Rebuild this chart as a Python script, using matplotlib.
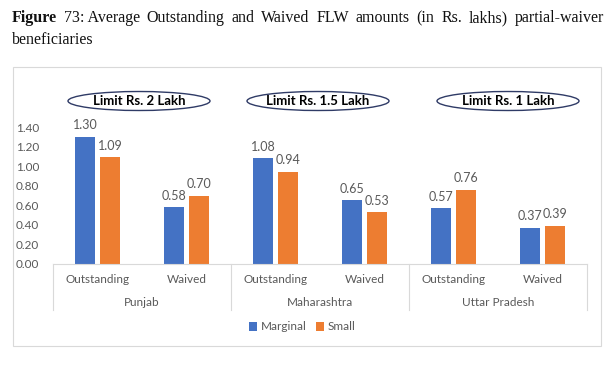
import numpy as np
import matplotlib
matplotlib.use("Agg")
import matplotlib.pyplot as plt
from matplotlib.patches import Ellipse, Rectangle
from matplotlib.lines import Line2D
import matplotlib.transforms as mtransforms

# data (Rs. lakhs)
states = ['Punjab', 'Maharashtra', 'Uttar Pradesh']
kinds = ['Outstanding', 'Waived']
marginal = [1.30, 0.58, 1.08, 0.65, 0.57, 0.37]
small = [1.09, 0.70, 0.94, 0.53, 0.76, 0.39]
limits = ['Limit Rs. 2 Lakh', 'Limit Rs. 1.5 Lakh', 'Limit Rs. 1 Lakh']

blue = '#4472C4'
orange = '#ED7D31'
grey = '#595959'

plt.rcParams['font.family'] = ['Lato', 'DejaVu Sans']

W, H = 616, 367
fig = plt.figure(figsize=(W / 100, H / 100), dpi=100)

def fx(px):
    return px / W

def fy(py):
    return 1 - py / H

# outer chart frame
fig.add_artist(Rectangle((fx(13), fy(346)), fx(601) - fx(13), fy(67) - fy(346),
                         transform=fig.transFigure, fill=False, edgecolor='#D9D9D9', lw=0.8))

ax = fig.add_axes([fx(53), fy(264), fx(587) - fx(53), fy(127) - fy(264)])
x = np.arange(len(marginal))
bw = 0.215
off = 0.14
b1 = ax.bar(x - off, marginal, bw, color=blue, label='Marginal')
b2 = ax.bar(x + off, small, bw, color=orange, label='Small')
for bars, vals in ((b1, marginal), (b2, small)):
    for r, v in zip(bars, vals):
        ax.annotate('%.2f' % v, (r.get_x() + r.get_width() / 2, v), xytext=(0, 4),
                    textcoords='offset points', ha='center', va='bottom', fontsize=9, color=grey)

ax.set_xlim(-0.5, 5.5)
ax.set_ylim(0, 1.4)
ax.set_yticks(np.arange(0, 1.41, 0.2))
ax.set_yticklabels(['%.2f' % t for t in np.arange(0, 1.41, 0.2)])
ax.set_xticks(x)
ax.set_xticklabels(kinds * 3)
ax.tick_params(axis='both', length=0, labelsize=8.5, labelcolor=grey)
ax.tick_params(axis='y', pad=10)
ax.tick_params(axis='x', pad=7)
for s in ['top', 'right', 'left']:
    ax.spines[s].set_visible(False)
ax.spines['bottom'].set_color('#D9D9D9')

trans = mtransforms.blended_transform_factory(ax.transData, ax.transAxes)
ybot = -(310 - 264) / 137
for xs in [-0.5, 1.5, 3.5, 5.5]:
    ax.add_line(Line2D([xs, xs], [0, ybot], transform=trans, color='#D9D9D9', lw=0.8, clip_on=False))
for i, st in enumerate(states):
    ax.text(2 * i + 0.5, -(302 - 264) / 137, st, transform=trans, ha='center', va='center',
            fontsize=8.5, color=grey)

# limit ellipses
for cx, lab in zip([139, 318, 508], limits):
    fig.add_artist(Ellipse((fx(cx), fy(101)), fx(142), 19 / H, transform=fig.transFigure,
                           facecolor='white', edgecolor='#2F3B66', lw=1.0))
    fig.text(fx(cx), fy(101), lab, ha='center', va='center', fontsize=9.5,
             fontweight='bold', color='black')

fig.legend(handles=[b1, b2], loc='center', bbox_to_anchor=(fx(302), fy(327)), ncol=2,
           frameon=False, fontsize=8.5, labelcolor=grey, handlelength=0.7, handleheight=0.7,
           handletextpad=0.3, columnspacing=0.8)

# caption above the chart, justified on first line
fig.canvas.draw()
r = fig.canvas.get_renderer()
words = ['Figure', '73', ': Average', 'Outstanding', 'and', 'Waived', 'FLW', 'amounts',
         '(in', 'Rs.', 'lakhs)', 'partial-waiver']
bold = [True, False, False] + [False] * 9
tf = {'family': 'Liberation Serif', 'fontsize': 11.5, 'color': '#111111'}
texts = []
for w_, b in zip(words, bold):
    t = fig.text(0, fy(18), w_, va='center', fontweight='bold' if b else 'normal', **tf)
    texts.append(t)
widths = [t.get_window_extent(r).width for t in texts]
# "73" and ": Average" glue without space
gaps = len(words) - 2
space = (604 - 12 - sum(widths)) / gaps
xp = 12
for i, (t, wd) in enumerate(zip(texts, widths)):
    t.set_x(fx(xp))
    xp += wd
    if i != 1:
        xp += space
fig.text(fx(12), fy(40), 'beneficiaries', va='center', **tf)

fig.savefig('out.png', dpi=100)
